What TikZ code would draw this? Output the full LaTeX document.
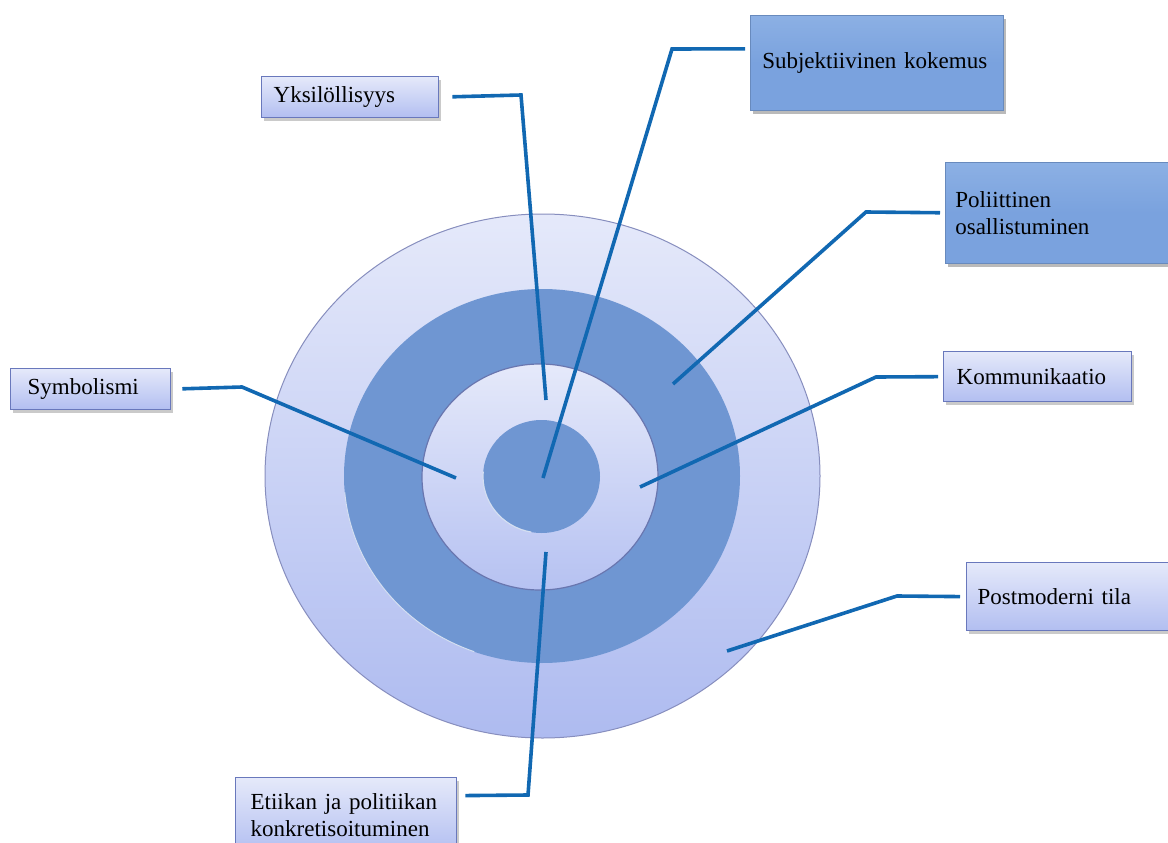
\documentclass[tikz,border=0pt]{standalone}
\usepackage{fontspec}
\setmainfont{Liberation Serif}
\usetikzlibrary{shadows}
\definecolor{ringdark}{RGB}{111,150,210}
\definecolor{lighttop}{RGB}{229,233,250}
\definecolor{lightbot}{RGB}{174,187,240}
\definecolor{outerrim}{RGB}{135,142,190}
\definecolor{innerrim}{RGB}{105,118,175}
\definecolor{boxrim}{RGB}{105,120,188}
\definecolor{darkbox}{RGB}{122,162,222}
\definecolor{darkboxtop}{RGB}{140,176,228}
\definecolor{conncol}{RGB}{17,104,178}
\tikzset{
  lbox/.style={draw=boxrim, line width=1.3pt, top color=lighttop, bottom color=lightbot!95!white,
    anchor=north west, align=left, inner ysep=0pt,
    font=\fontsize{23}{27}\selectfont,
    drop shadow={shadow xshift=2.5pt, shadow yshift=-3pt, opacity=0.35, fill=black!60}},
  dbox/.style={draw=darkbox!85!black, line width=0.6pt, top color=darkboxtop, bottom color=darkbox,
    middle color=darkbox, anchor=north west, align=left, inner ysep=0pt,
    font=\fontsize{23}{27}\selectfont,
    drop shadow={shadow xshift=3pt, shadow yshift=-4pt, opacity=0.45, fill=black!60}},
  conn/.style={draw=conncol, line width=3.6pt, line join=miter}
}
\begin{document}
\begin{tikzpicture}[x=1pt,y=-1pt]
\useasboundingbox (0,0) rectangle (1168,843);
\clip (0,0) rectangle (1168,843);
% concentric circles
\draw[draw=outerrim, line width=1pt, top color=lighttop, bottom color=lightbot] (542.5,476) ellipse (277.5 and 262);
\fill[ringdark] (542,476) ellipse (198 and 187);
\draw[white!70!ringdark, line width=1pt] (542,476) ++(110:198 and 187) arc (110:175:198 and 187);
\draw[draw=innerrim, line width=1.2pt, top color=lighttop, bottom color=lightbot!90!white] (540,477) ellipse (118 and 113);
\fill[ringdark] (541.5,476.5) ellipse (58.5 and 56.5);
\draw[white!70!ringdark, line width=1.2pt] (541.5,476.5) ++(100:58.5 and 56.5) arc (100:185:58.5 and 56.5);
% end points of connectors
\coordinate (ykb) at (521,95);
\coordinate (yke) at (546,400);
\coordinate (subb) at (672,49);
\coordinate (sube) at (543,478);
\coordinate (polb) at (866,212);
\coordinate (pole) at (673,384);
\coordinate (komb) at (876,377);
\coordinate (kome) at (640,487);
\coordinate (symb) at (242,387);
\coordinate (syme) at (456,478);
\coordinate (posb) at (897,596);
\coordinate (pose) at (727,651);
\coordinate (etib) at (528,795);
\coordinate (etie) at (546,552);
% boxes
\node[lbox, minimum width=177pt, minimum height=41pt, text width=153pt, inner xsep=12pt] (yk) at (261,76) {Yksilöllisyys};
\node[dbox, minimum width=253pt, minimum height=95pt, text width=229pt, inner xsep=12pt] (sub) at (750,15) {Subjektiivinen kokemus};
\node[dbox, minimum width=235pt, minimum height=101pt, text width=215pt, inner xsep=10pt] (pol) at (945,162) {Poliittinen\\osallistuminen};
\node[lbox, minimum width=188pt, minimum height=50pt, text width=162pt, inner xsep=13pt] (kom) at (943,351) {Kommunikaatio};
\node[lbox, minimum width=160pt, minimum height=41pt, text width=126pt, inner xsep=17pt] (sym) at (10,368) {Symbolismi};
\node[lbox, minimum width=215pt, minimum height=68pt, text width=193pt, inner xsep=11pt] (pos) at (966,562) {Postmoderni tila};
\node[lbox, minimum width=221pt, minimum height=75pt, text width=191pt, inner xsep=15pt] (eti) at (235,777) {Etiikan ja politiikan\\konkretisoituminen};
% connectors
\draw[conn, shorten <=13pt] (yk.east) -- (ykb) -- (yke);
\draw[conn, shorten <=5pt] ([yshift=14pt]sub.west) -- (subb) -- (sube);
\draw[conn, shorten <=5pt] (pol.west) -- (polb) -- (pole);
\draw[conn, shorten <=5pt] (kom.west) -- (komb) -- (kome);
\draw[conn, shorten <=11pt] (sym.east) -- (symb) -- (syme);
\draw[conn, shorten <=6pt] (pos.west) -- (posb) -- (pose);
\draw[conn, shorten <=8pt] ([yshift=19.5pt]eti.east) -- (etib) -- (etie);
\end{tikzpicture}
\end{document}
